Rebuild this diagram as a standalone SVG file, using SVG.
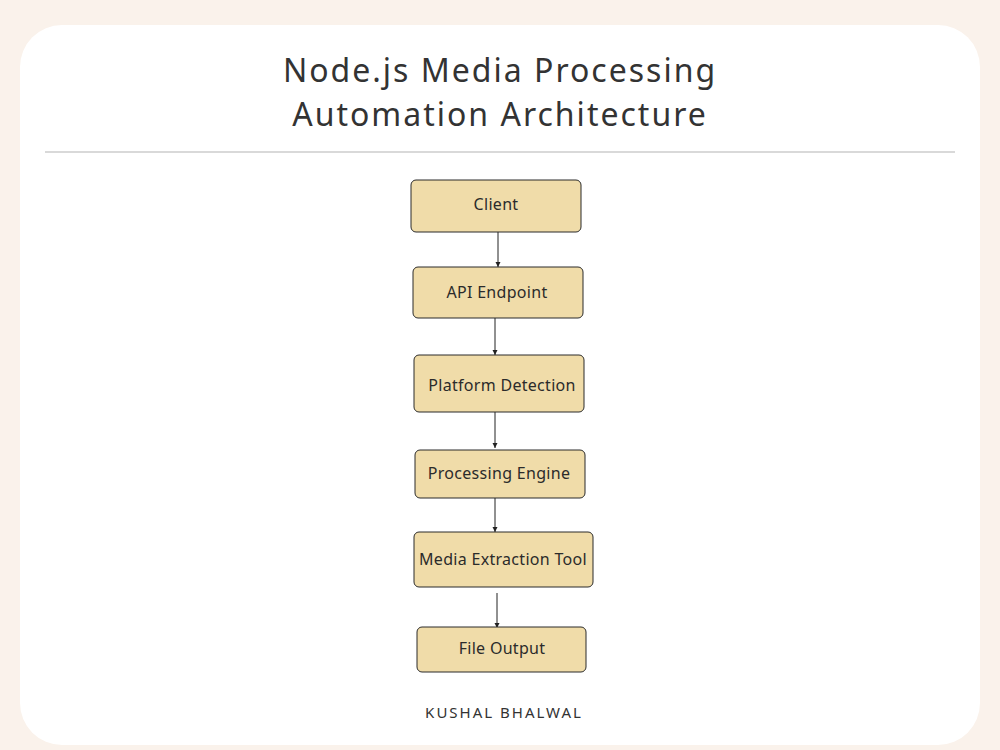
<svg xmlns="http://www.w3.org/2000/svg" width="1000" height="750" viewBox="0 0 1000 750">
<defs>
<style>
.node rect{fill:#F0DCA9;stroke:#2b2b2b;stroke-width:1}
.node text{font-family:"Noto Sans","Open Sans",sans-serif;font-size:16px;letter-spacing:0.3px;fill:#2b2b2b;text-anchor:middle;dominant-baseline:central}
.title{font-family:"Noto Sans","Open Sans",sans-serif;font-size:32px;fill:#333;text-anchor:middle;letter-spacing:2px}
.conn line{stroke:#222;stroke-width:1}
</style>
<marker id="ah" markerWidth="6" markerHeight="6" refX="5" refY="3" orient="auto" markerUnits="userSpaceOnUse">
<path d="M0,0.5 L5,3 L0,5.5 Z" fill="#222"/>
</marker>
</defs>
<rect width="1000" height="750" fill="#FAF2EB"/>
<rect x="20" y="25" width="960" height="720" rx="42" fill="#ffffff"/>
<text class="title" x="500" y="82">Node.js Media Processing</text>
<text class="title" x="500" y="126">Automation Architecture</text>
<line x1="45" y1="152" x2="955" y2="152" stroke="#cccccc" stroke-width="1.5"/>
<g class="conn">
<line x1="498" y1="232" x2="498" y2="267" marker-end="url(#ah)"/>
<line x1="495" y1="318" x2="495" y2="355" marker-end="url(#ah)"/>
<line x1="495" y1="412" x2="495" y2="448" marker-end="url(#ah)"/>
<line x1="495" y1="498" x2="495" y2="532" marker-end="url(#ah)"/>
<line x1="497" y1="593" x2="497" y2="628" marker-end="url(#ah)"/>
</g>
<g id="client" class="node"><rect x="411" y="180" width="170" height="52" rx="5"/><text x="496" y="204">Client</text></g>
<g id="api" class="node"><rect x="413" y="267" width="170" height="51" rx="5"/><text x="497" y="292">API Endpoint</text></g>
<g id="platform" class="node"><rect x="414" y="355" width="170" height="57" rx="5"/><text x="502" y="385">Platform Detection</text></g>
<g id="engine" class="node"><rect x="415" y="450" width="170" height="48" rx="5"/><text x="499" y="473">Processing Engine</text></g>
<g id="extract" class="node"><rect x="414" y="532" width="179" height="55" rx="5"/><text x="503" y="559">Media Extraction Tool</text></g>
<g id="output" class="node"><rect x="417" y="627" width="169" height="45" rx="5"/><text x="502" y="648">File Output</text></g>
<text x="504" y="718" font-family="'Noto Sans','Open Sans',sans-serif" font-size="15" fill="#333" text-anchor="middle" letter-spacing="2">KUSHAL BHALWAL</text>
</svg>
